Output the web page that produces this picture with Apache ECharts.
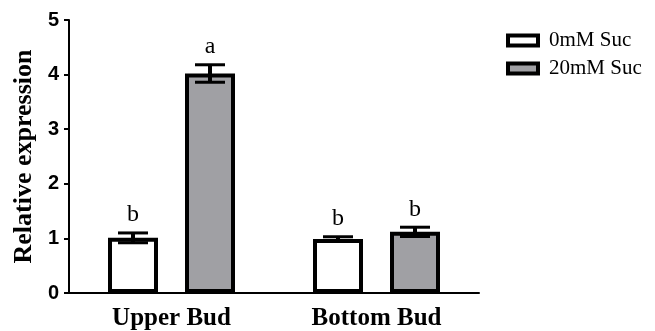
<!DOCTYPE html>
<html>
<head>
<meta charset="utf-8">
<script src="https://cdn.jsdelivr.net/npm/echarts@6/dist/echarts.min.js"></script>
<style>
  html, body { margin: 0; padding: 0; background: #fff; }
  #chart { width: 655px; height: 331px; }
</style>
</head>
<body>
<div id="chart"></div>
<script>
// Relative expression in upper and bottom buds, with and without sucrose
const categories = ['Upper Bud', 'Bottom Bud'];
const seriesNames = ['0mM Suc', '20mM Suc'];
const meanSuc0 = [1.01, 0.99];
const meanSuc20 = [4.02, 1.12];
const errSuc0 = [0.09, 0.04];
const errSuc20 = [0.16, 0.085];
const letterSuc0 = ['b', 'b'];
const letterSuc20 = ['a', 'b'];
const yTicks = [0, 1, 2, 3, 4, 5];

const BAR_W = 50;
const BAR_GAP = 0.54;
const serif = '"Liberation Serif", "Times New Roman", serif';
const sans = '"Liberation Sans", Arial, sans-serif';

const chart = echarts.init(document.getElementById('chart'), null, { renderer: 'canvas' });

// Error bars with caps, plus the significance letter above each bar
function errorSeries(means, errs, letters, side) {
  return {
    type: 'custom',
    name: 'err' + side,
    z: 5,
    data: means.map((m, i) => [i, m, errs[i]]),
    renderItem: function (params, api) {
      const idx = api.value(0);
      const mean = api.value(1);
      const e = api.value(2);
      const center = api.coord([idx, mean]);
      const offset = side * BAR_W * (1 + BAR_GAP) / 2;
      const x = center[0] + offset;
      const yHi = api.coord([idx, mean + e])[1];
      const yLo = api.coord([idx, mean - e])[1];
      const cap = 15;
      const capStyle = { stroke: '#000', lineWidth: 3 };
      return {
        type: 'group',
        children: [
          { type: 'line', shape: { x1: x, y1: yHi, x2: x, y2: yLo }, style: { stroke: '#000', lineWidth: 4 } },
          { type: 'line', shape: { x1: x - cap, y1: yHi, x2: x + cap, y2: yHi }, style: capStyle },
          { type: 'line', shape: { x1: x - cap, y1: yLo, x2: x + cap, y2: yLo }, style: capStyle },
          {
            type: 'text',
            x: x,
            y: yHi - 6,
            style: {
              text: letters[idx],
              fill: '#000',
              font: '24px ' + serif,
              textAlign: 'center',
              textVerticalAlign: 'bottom'
            }
          }
        ]
      };
    }
  };
}

chart.setOption({
  animation: false,
  backgroundColor: '#fff',
  grid: { left: 69, right: 176, top: 20, bottom: 38 },
  legend: {
    data: [
      { name: seriesNames[0], icon: 'rect', itemStyle: { color: '#ffffff', borderColor: '#000', borderWidth: 4 } },
      { name: seriesNames[1], icon: 'rect', itemStyle: { color: '#a0a0a4', borderColor: '#000', borderWidth: 4 } }
    ],
    orient: 'vertical',
    left: 506,
    top: 30,
    padding: 0,
    itemWidth: 30,
    itemHeight: 10,
    itemGap: 7,
    textStyle: { fontFamily: serif, fontSize: 21, color: '#000', padding: [0, 0, 0, 6] }
  },
  xAxis: {
    type: 'category',
    data: categories,
    axisLine: { lineStyle: { color: '#000', width: 2 } },
    axisTick: { alignWithLabel: true, length: 6, lineStyle: { color: '#000', width: 2 } },
    axisLabel: {
      fontFamily: serif, fontWeight: 'bold', fontSize: 25, color: '#000', margin: 13
    }
  },
  yAxis: {
    type: 'value',
    min: yTicks[0],
    max: yTicks[yTicks.length - 1],
    interval: 1,
    name: 'Relative expression',
    nameLocation: 'middle',
    nameGap: 29,
    nameTextStyle: { fontFamily: serif, fontWeight: 'bold', fontSize: 26, color: '#000' },
    axisLine: { show: true, lineStyle: { color: '#000', width: 2 } },
    axisTick: { show: true, length: 5, lineStyle: { color: '#000', width: 2 } },
    axisLabel: { fontFamily: sans, fontWeight: 'bold', fontSize: 20, color: '#000', margin: 10 },
    splitLine: { show: false }
  },
  series: [
    {
      name: seriesNames[0],
      type: 'bar',
      data: meanSuc0,
      barWidth: BAR_W,
      barGap: (BAR_GAP * 100) + '%',
      itemStyle: { color: '#ffffff', borderColor: '#000', borderWidth: 4 }
    },
    {
      name: seriesNames[1],
      type: 'bar',
      data: meanSuc20,
      barWidth: BAR_W,
      itemStyle: { color: '#a0a0a4', borderColor: '#000', borderWidth: 4 }
    },
    errorSeries(meanSuc0, errSuc0, letterSuc0, -1),
    errorSeries(meanSuc20, errSuc20, letterSuc20, 1)
  ]
});
</script>
</body>
</html>
